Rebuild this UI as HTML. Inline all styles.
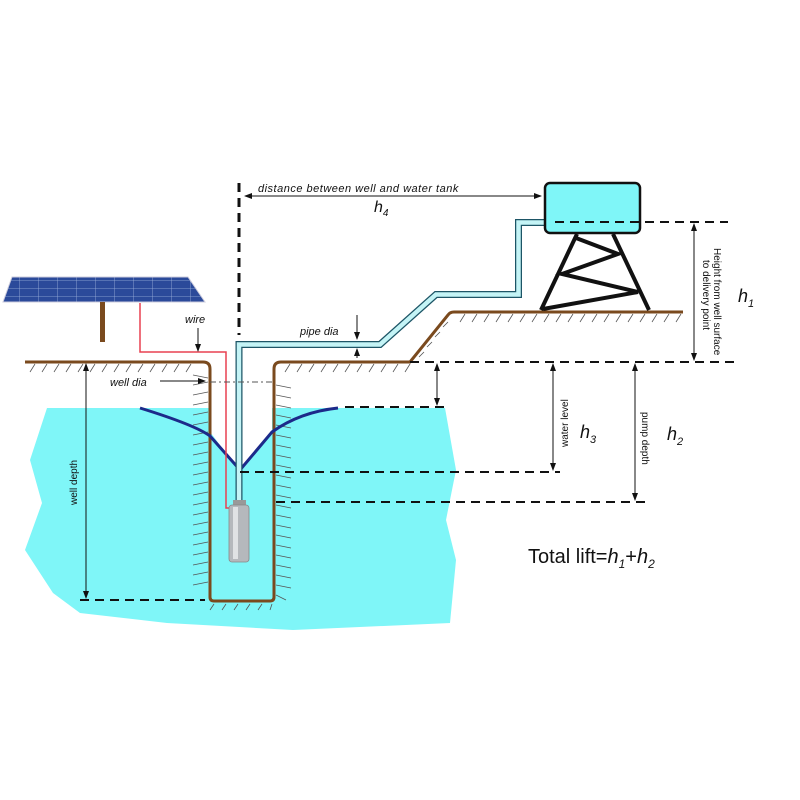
<!DOCTYPE html>
<html><head><meta charset="utf-8"><style>
html,body{margin:0;padding:0;background:#fff;}
svg{display:block}
text{font-family:"Liberation Sans",sans-serif;}
</style></head><body>
<svg width="800" height="800" viewBox="0 0 800 800" xmlns="http://www.w3.org/2000/svg">
<defs>
<marker id="ah" markerWidth="8" markerHeight="8" refX="7" refY="4" orient="auto" markerUnits="userSpaceOnUse"><path d="M0,1 L8,4 L0,7 z" fill="#111"/></marker>
<marker id="ahs" markerWidth="8" markerHeight="8" refX="1" refY="4" orient="auto" markerUnits="userSpaceOnUse"><path d="M8,1 L0,4 L8,7 z" fill="#111"/></marker>
<pattern id="cells" width="19" height="8" patternUnits="userSpaceOnUse"><rect width="19" height="8" fill="#2b4a9a"/><path d="M0,0 V8 M0,0 H19" stroke="#9fb3dd" stroke-width="0.8"/></pattern>
</defs>
<path d="M47,408 L445,408 L456,470 L446,520 L456,560 L450,623 L293,630 L167,623 L80,613 L53,593 L25,550 L42,503 L30,460 Z" fill="#7ff6f8"/>
<rect x="211" y="363" width="61" height="70" fill="#fff"/>
<path d="M211,433 L240,472 L272,430 L272,433 Z" fill="#fff"/>
<path d="M12,277 L188,277 L205,302 L3,302 Z" fill="url(#cells)" stroke="#ccd" stroke-width="1"/>
<rect x="100" y="302" width="5" height="40" fill="#7a4a1e"/>
<g stroke="#555" stroke-width="0.8">
<path d="M30,372 l5,-8 M42,372 l5,-8 M54,372 l5,-8 M66,372 l5,-8 M78,372 l5,-8 M90,372 l5,-8 M102,372 l5,-8 M114,372 l5,-8 M126,372 l5,-8 M138,372 l5,-8 M150,372 l5,-8 M162,372 l5,-8 M174,372 l5,-8 M186,372 l5,-8"/>
<path d="M285,372 l5,-8 M297,372 l5,-8 M309,372 l5,-8 M321,372 l5,-8 M333,372 l5,-8 M345,372 l5,-8 M357,372 l5,-8 M369,372 l5,-8 M381,372 l5,-8 M393,372 l5,-8 M405,372 l5,-8"/>
<path d="M460,322 l5,-8 M472,322 l5,-8 M484,322 l5,-8 M496,322 l5,-8 M508,322 l5,-8 M520,322 l5,-8 M532,322 l5,-8 M544,322 l5,-8 M556,322 l5,-8 M568,322 l5,-8 M580,322 l5,-8 M592,322 l5,-8 M604,322 l5,-8 M616,322 l5,-8 M628,322 l5,-8 M640,322 l5,-8 M652,322 l5,-8 M664,322 l5,-8 M676,322 l5,-8"/>
<path d="M448,322 l-5,5 M440,332 l-5,5 M432,342 l-5,5 M424,352 l-5,5"/>
</g>
<g stroke="#555" stroke-width="0.8">
<path d="M193,375 l15,3 M193,385 l15,-3 M193,395 l15,-3 M193,405 l15,-3 M193,415 l15,-3 M193,425 l15,-3 M193,435 l15,-3 M193,445 l15,-3 M193,455 l15,-3 M193,465 l15,-3 M193,475 l15,-3 M193,485 l15,-3 M193,495 l15,-3 M193,505 l15,-3 M193,515 l15,-3 M193,525 l15,-3 M193,535 l15,-3 M193,545 l15,-3 M193,555 l15,-3 M193,565 l15,-3 M193,575 l15,-3 M193,585 l15,-3"/>
<path d="M276,385 l15,3 M276,395 l15,3 M276,405 l15,3 M276,415 l15,3 M276,425 l15,3 M276,435 l15,3 M276,445 l15,3 M276,455 l15,3 M276,465 l15,3 M276,475 l15,3 M276,485 l15,3 M276,495 l15,3 M276,505 l15,3 M276,515 l15,3 M276,525 l15,3 M276,535 l15,3 M276,545 l15,3 M276,555 l15,3 M276,565 l15,3 M276,575 l15,3 M276,585 l15,3 M276,595 l10,5"/>
<path d="M210,610 l4,-6 M222,610 l4,-6 M234,610 l4,-6 M246,610 l4,-6 M258,610 l4,-6 M270,610 l2,-6"/>
</g>
<path d="M25,362 L203,362 Q210,362 210,369 L210,597 Q210,601 214,601 L270,601 Q274,601 274,597 L274,369 Q274,362 281,362 L410,362 L448,315 Q450,312 454,312 L683,312" fill="none" stroke="#7a4a1e" stroke-width="3"/>
<path d="M140,408 Q195,425 210,436 L240,470 L272,432 Q300,412 338,408" fill="none" stroke="#1c2a8a" stroke-width="3"/>
<path d="M140,303 V352 H226 V508 H232" fill="none" stroke="#e84050" stroke-width="1.5"/>
<path d="M239,505 V344.5 H380 L436,294.5 H518.5 V222.5 H556" fill="none" stroke="#1d5566" stroke-width="7"/>
<path d="M239,505 V344.5 H380 L436,294.5 H518.5 V222.5 H556" fill="none" stroke="#c4f4f6" stroke-width="4.5"/>
<rect x="233" y="500" width="13" height="6" fill="#999"/>
<rect x="229" y="505" width="20" height="57" rx="3" fill="#b5b8bc" stroke="#888" stroke-width="0.8"/>
<rect x="233" y="507" width="5" height="52" fill="#e0e2e4"/>
<g stroke="#111" stroke-width="4" fill="none">
<path d="M577,234 L541,310 M613,234 L649,310 M576,238 L618,254 L562,274 L638,292 L543,309"/>
</g>
<rect x="545" y="183" width="95" height="50" rx="5" fill="#7ff6f8" stroke="#111" stroke-width="2.5"/>
<g stroke="#111" stroke-width="2" stroke-dasharray="9,6" fill="none">
<path d="M239,183 V335" stroke-width="3"/>
<path d="M555,222 H728"/>
<path d="M410,362 H735"/>
<path d="M345,407 H445"/>
<path d="M240,472 H560"/>
<path d="M276,502 H645"/>
<path d="M80,600 H205"/>
</g>
<path d="M210,382 H275" stroke="#555" stroke-width="1" stroke-dasharray="6,3,2,3"/>
<g stroke="#111" stroke-width="1" fill="none">
<path d="M245,196 H541" marker-start="url(#ahs)" marker-end="url(#ah)"/>
<path d="M694,224 V360" marker-start="url(#ahs)" marker-end="url(#ah)"/>
<path d="M437,364 V405" marker-start="url(#ahs)" marker-end="url(#ah)"/>
<path d="M553,364 V470" marker-start="url(#ahs)" marker-end="url(#ah)"/>
<path d="M635,364 V500" marker-start="url(#ahs)" marker-end="url(#ah)"/>
<path d="M86,364 V598" marker-start="url(#ahs)" marker-end="url(#ah)"/>
<path d="M160,381 H205" marker-end="url(#ah)"/>
<path d="M198,328 V351" marker-end="url(#ah)"/>
<path d="M357,315 V339" marker-end="url(#ah)"/>
<path d="M357,358 V349" marker-end="url(#ah)"/>
</g>
<g font-style="italic" fill="#111">
<text x="258" y="192" font-size="11" letter-spacing="0.5">distance between well and water tank</text>
<text x="374" y="212" font-size="16">h<tspan font-size="10" dy="4">4</tspan></text>
<text x="185" y="323" font-size="11">wire</text>
<text x="300" y="335" font-size="11">pipe dia</text>
<text x="110" y="386" font-size="11">well dia</text>
<text x="738" y="302" font-size="18">h<tspan font-size="11" dy="5">1</tspan></text>
<text x="580" y="438" font-size="18">h<tspan font-size="11" dy="5">3</tspan></text>
<text x="667" y="440" font-size="18">h<tspan font-size="11" dy="5">2</tspan></text>
</g>
<g font-size="10" fill="#111">
<text transform="translate(714,248) rotate(90)">Height from well surface</text>
<text transform="translate(703,260) rotate(90)">to delivery point</text>
<text transform="translate(568,447) rotate(-90)">water level</text>
<text transform="translate(642,412) rotate(90)">pump depth</text>
<text transform="translate(77,505) rotate(-90)">well depth</text>
</g>
<text x="528" y="563" font-size="20" fill="#111">Total lift=<tspan font-style="italic">h</tspan><tspan font-size="12" dy="5" font-style="italic">1</tspan><tspan dy="-5">+</tspan><tspan font-style="italic">h</tspan><tspan font-size="12" dy="5" font-style="italic">2</tspan></text>
</svg>
</body></html>
